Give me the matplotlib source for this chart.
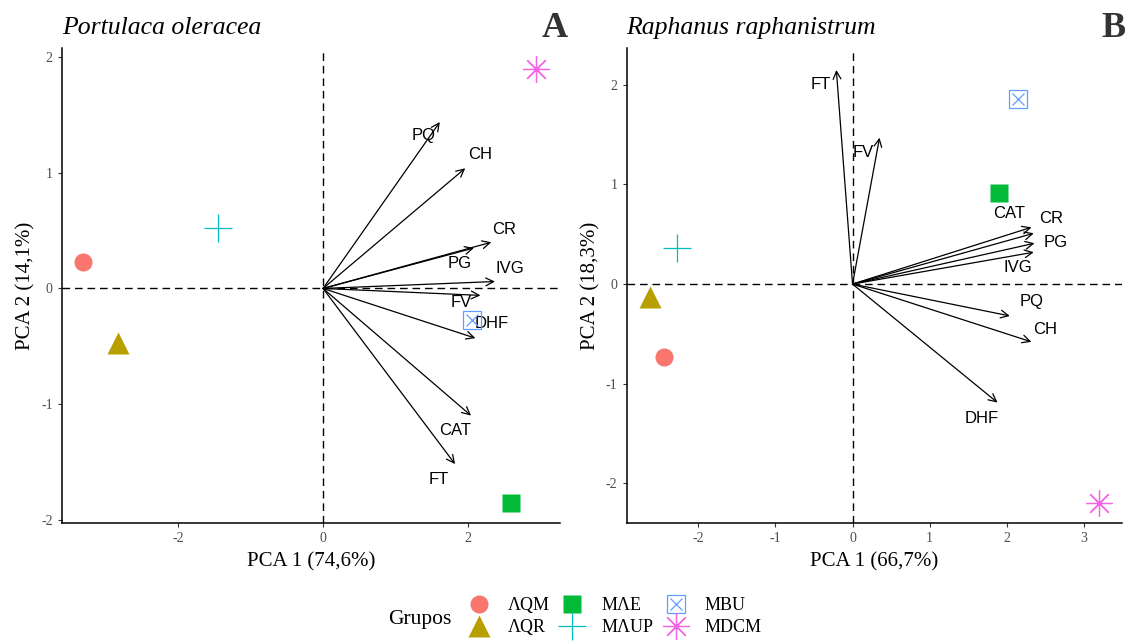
import matplotlib
matplotlib.use("Agg")
import matplotlib.pyplot as plt
from matplotlib.lines import Line2D
from matplotlib.legend_handler import HandlerTuple

# groups (scores)
groups = ["ΛQM", "ΛQR", "MΛE", "MΛUP", "MBU", "MDCM"]
colors = ["#F8766D", "#B79F00", "#00BA38", "#00BFC4", "#619CFF", "#F564E3"]

# Portulaca oleracea
scores_a_x = [-3.31, -2.83, 2.59, -1.45, 2.06, 2.94]
scores_a_y = [0.23, -0.47, -1.86, 0.52, -0.27, 1.90]
vars_a = ["PQ", "CH", "CR", "PG", "IVG", "FV", "DHF", "CAT", "FT"]
load_a_x = [1.61, 1.96, 2.32, 2.08, 2.37, 2.17, 2.10, 2.04, 1.82]
load_a_y = [1.44, 1.04, 0.40, 0.35, 0.06, -0.06, -0.43, -1.10, -1.52]
lab_a_x = [1.39, 2.17, 2.50, 1.88, 2.58, 1.90, 2.32, 1.82, 1.59]
lab_a_y = [1.32, 1.16, 0.51, 0.22, 0.17, -0.12, -0.30, -1.23, -1.65]

# Raphanus raphanistrum
scores_b_x = [-2.45, -2.63, 1.90, -2.28, 2.15, 3.20]
scores_b_y = [-0.73, -0.13, 0.91, 0.36, 1.86, -2.20]
vars_b = ["FT", "FV", "CAT", "CR", "PG", "IVG", "PQ", "CH", "DHF"]
load_b_x = [-0.21, 0.35, 2.32, 2.35, 2.36, 2.35, 2.04, 2.32, 1.88]
load_b_y = [2.15, 1.47, 0.57, 0.51, 0.41, 0.32, -0.32, -0.58, -1.19]
lab_b_x = [-0.41, 0.14, 2.03, 2.58, 2.63, 2.14, 2.32, 2.50, 1.68]
lab_b_y = [2.00, 1.32, 0.71, 0.66, 0.42, 0.17, -0.18, -0.46, -1.35]

SERIF = "Liberation Serif"
SANS = "Liberation Sans"
DASH = (0, (5.5, 3.5))


def marker_handles(i):
    c = colors[i]
    if i == 0:
        return [Line2D([], [], marker="o", color=c, ms=13, mec="none", ls="none")]
    if i == 1:
        return [Line2D([], [], marker="^", color=c, ms=16, mec="none", ls="none")]
    if i == 2:
        return [Line2D([], [], marker="s", color=c, ms=12.5, mec="none", ls="none")]
    if i == 3:
        return [Line2D([], [], marker="+", color=c, ms=19.5, mew=0.9, ls="none")]
    if i == 4:
        return [Line2D([], [], marker="s", mfc="none", mec=c, ms=12.5, mew=0.9, ls="none"),
                Line2D([], [], marker="x", color=c, ms=8.5, mew=0.9, ls="none")]
    return [Line2D([], [], marker=(8, 2, 0), color=c, ms=19, mew=0.9, ls="none")]


def draw_marker(ax, i, x, y):
    for h in marker_handles(i):
        ax.plot(x, y, marker=h.get_marker(), ms=h.get_markersize(), mew=h.get_markeredgewidth(),
                mfc=h.get_markerfacecolor(), mec=h.get_markeredgecolor(), ls="none", zorder=3)


def panel(ax, sx, sy, names, lx, ly, tx, ty, title, xlim, ylim, xticks, yticks, xlab, ylab):
    ax.axhline(0, color="black", lw=1, ls=DASH, zorder=1)
    ax.axvline(0, color="black", lw=1, ls=DASH, zorder=1)
    for i in range(len(names)):
        ax.annotate("", xy=(lx[i], ly[i]), xytext=(0, 0),
                    arrowprops=dict(arrowstyle="->", color="black", lw=0.9,
                                    mutation_scale=14, shrinkA=0, shrinkB=0))
        ax.text(tx[i], ty[i], names[i], ha="center", va="center",
                fontsize=12, family=SANS)
    for i in range(len(sx)):
        draw_marker(ax, i, sx[i], sy[i])
    ax.set_xlim(*xlim)
    ax.set_ylim(*ylim)
    ax.set_xticks(xticks)
    ax.set_yticks(yticks)
    ax.set_xticklabels([str(t) for t in xticks], family=SERIF, fontsize=10, color="#4D4D4D")
    ax.set_yticklabels([str(t) for t in yticks], family=SERIF, fontsize=10, color="#4D4D4D")
    ax.tick_params(length=3, color="#333333", width=0.8)
    for s in ["top", "right"]:
        ax.spines[s].set_visible(False)
    for s in ["left", "bottom"]:
        ax.spines[s].set_linewidth(1.1)
    ax.set_xlabel(xlab, family=SERIF, fontsize=15, labelpad=5)
    ax.set_ylabel(ylab, family=SERIF, fontsize=15, labelpad=4)
    ax.text(0.0, 1.02, title, transform=ax.transAxes, family=SERIF, style="italic",
            fontsize=18.5, ha="left", va="bottom")
    return ax


fig = plt.figure(figsize=(11.25, 6.41), dpi=100)
ax_a = fig.add_axes([0.055, 0.184, 0.443, 0.741])
ax_b = fig.add_axes([0.557, 0.184, 0.440, 0.741])

panel(ax_a, scores_a_x, scores_a_y, vars_a, load_a_x, load_a_y, lab_a_x, lab_a_y,
      "Portulaca oleracea", (-3.6, 3.27), (-2.03, 2.08), [-2, 0, 2], [-2, -1, 0, 1, 2],
      "PCA 1 (74,6%)", "PCA 2 (14,1%)")
panel(ax_b, scores_b_x, scores_b_y, vars_b, load_b_x, load_b_y, lab_b_x, lab_b_y,
      "Raphanus raphanistrum", (-2.93, 3.49), (-2.40, 2.37), [-2, -1, 0, 1, 2, 3],
      [-2, -1, 0, 1, 2], "PCA 1 (66,7%)", "PCA 2 (18,3%)")

fig.text(0.493, 0.955, "A", family=SERIF, weight="bold", fontsize=26, color="#333333",
         ha="center", va="center")
fig.text(0.990, 0.955, "B", family=SERIF, weight="bold", fontsize=26, color="#333333",
         ha="center", va="center")

# legend
handles = [tuple(marker_handles(i)) for i in range(len(groups))]
fig.text(0.373, 0.034, "Grupos", family=SERIF, fontsize=15.5, ha="center", va="center")
fig.legend(handles, groups, ncol=3, loc="center", bbox_to_anchor=(0.545, 0.038),
           frameon=False, prop={"family": SERIF, "size": 13}, handlelength=1.6,
           columnspacing=0.45, labelspacing=0.3, handletextpad=0.8,
           handler_map={tuple: HandlerTuple(ndivide=1)})

fig.savefig("out.png", dpi=100)
